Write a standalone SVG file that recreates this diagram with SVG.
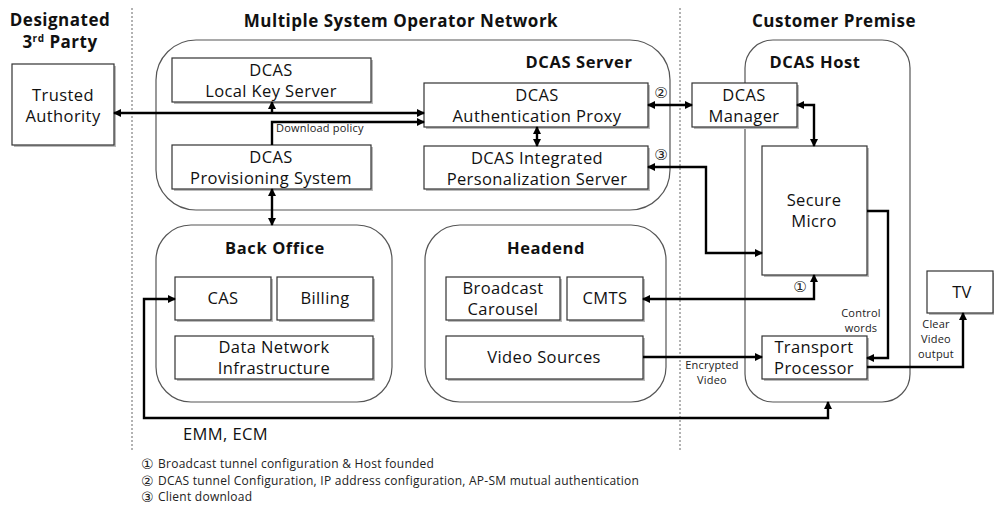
<svg xmlns="http://www.w3.org/2000/svg" width="994" height="505" viewBox="0 0 994 505">
  <style>
    .bg { fill: #ffffff; }
    .zone { stroke: #666; stroke-width: 1; stroke-dasharray: 2 2; fill: none; }
    .hdr { font-family: "Open Sans", "Liberation Sans", sans-serif; font-weight: bold; font-size: 17px; letter-spacing: 0.5px; fill: #111; text-anchor: middle; }
    .grp { fill: #fff; stroke: #555; stroke-width: 1.2; }
    .grptitle { font-family: "Open Sans", "Liberation Sans", sans-serif; font-weight: bold; font-size: 16.5px; letter-spacing: 0.6px; fill: #111; text-anchor: middle; }
    .box { fill: #fff; stroke: #333; stroke-width: 1.2; }
    .shadow { fill: #bbb; }
    .lbl { font-family: "Open Sans", "Liberation Sans", sans-serif; font-size: 16.5px; letter-spacing: 0.4px; fill: #111; text-anchor: middle; }
    .small { font-family: "Open Sans", "Liberation Sans", sans-serif; font-size: 11px; letter-spacing: 0.2px; fill: #222; text-anchor: middle; }
    .num { font-family: "DejaVu Sans", sans-serif; font-size: 15px; fill: #222; text-anchor: middle; }
    .legend { font-family: "Open Sans", "Liberation Sans", sans-serif; font-size: 12px; letter-spacing: 0.25px; fill: #222; }
    .legnum { font-family: "DejaVu Sans", sans-serif; font-size: 14px; fill: #222; }
    .wire { fill: none; stroke: #000; stroke-width: 2.4; }
  </style>
  <defs>
    <marker id="ah" viewBox="0 0 8 8" refX="7" refY="4" markerWidth="8" markerHeight="8" markerUnits="userSpaceOnUse" orient="auto-start-reverse">
      <path d="M0,0 L8,4 L0,8 z" fill="#000"/>
    </marker>
  </defs>

  <rect class="bg" x="0" y="0" width="994" height="505"/>

  <!-- zone separators -->
  <line class="zone" x1="132" y1="8" x2="132" y2="452"/>
  <line class="zone" x1="680" y1="8" x2="680" y2="452"/>

  <!-- zone headings -->
  <text class="hdr" x="60" y="26">Designated</text>
  <text class="hdr" x="60" y="48">3<tspan font-size="10" dy="-6">rd</tspan><tspan dy="6"> Party</tspan></text>
  <text class="hdr" x="401" y="27">Multiple System Operator Network</text>
  <text class="hdr" x="834" y="27">Customer Premise</text>

  <!-- containers -->
  <g id="dcas-server">
    <rect class="grp" x="156" y="40" width="514" height="170" rx="40" ry="40"/>
    <text class="grptitle" x="579" y="68">DCAS Server</text>
  </g>
  <g id="back-office">
    <rect class="grp" x="156" y="225" width="236" height="177" rx="35" ry="35"/>
    <text class="grptitle" x="275" y="254">Back Office</text>
  </g>
  <g id="headend">
    <rect class="grp" x="425" y="225" width="241" height="177" rx="35" ry="35"/>
    <text class="grptitle" x="546" y="254">Headend</text>
  </g>
  <g id="dcas-host">
    <rect class="grp" x="745" y="40" width="165" height="362" rx="28" ry="28"/>
    <text class="grptitle" x="815" y="68">DCAS Host</text>
  </g>

  <!-- nodes -->
  <g id="trusted-authority">
    <rect class="shadow" x="14" y="66" width="102" height="81"/>
    <rect class="box" x="12" y="64" width="102" height="81"/>
    <text class="lbl" x="63" y="101">Trusted</text>
    <text class="lbl" x="63" y="122">Authority</text>
  </g>
  <g id="local-key-server">
    <rect class="shadow" x="174" y="60" width="199" height="44"/>
    <rect class="box" x="172" y="58" width="199" height="44"/>
    <text class="lbl" x="271" y="76">DCAS</text>
    <text class="lbl" x="271" y="97">Local Key Server</text>
  </g>
  <g id="provisioning-system">
    <rect class="shadow" x="174" y="147" width="199" height="44"/>
    <rect class="box" x="172" y="145" width="199" height="44"/>
    <text class="lbl" x="271" y="163">DCAS</text>
    <text class="lbl" x="271" y="184">Provisioning System</text>
  </g>
  <g id="authentication-proxy">
    <rect class="shadow" x="426" y="85" width="224" height="44"/>
    <rect class="box" x="424" y="83" width="224" height="44"/>
    <text class="lbl" x="537" y="101">DCAS</text>
    <text class="lbl" x="537" y="122">Authentication Proxy</text>
  </g>
  <g id="personalization-server">
    <rect class="shadow" x="426" y="148" width="224" height="43"/>
    <rect class="box" x="424" y="146" width="224" height="43"/>
    <text class="lbl" x="537" y="164">DCAS Integrated</text>
    <text class="lbl" x="537" y="185">Personalization Server</text>
  </g>
  <g id="cas">
    <rect class="shadow" x="177" y="279" width="96" height="43"/>
    <rect class="box" x="175" y="277" width="96" height="43"/>
    <text class="lbl" x="223" y="304">CAS</text>
  </g>
  <g id="billing">
    <rect class="shadow" x="279" y="279" width="96" height="43"/>
    <rect class="box" x="277" y="277" width="96" height="43"/>
    <text class="lbl" x="325" y="304">Billing</text>
  </g>
  <g id="data-network">
    <rect class="shadow" x="177" y="338" width="198" height="43"/>
    <rect class="box" x="175" y="336" width="198" height="43"/>
    <text class="lbl" x="274" y="353">Data Network</text>
    <text class="lbl" x="274" y="374">Infrastructure</text>
  </g>
  <g id="broadcast-carousel">
    <rect class="shadow" x="448" y="279" width="114" height="43"/>
    <rect class="box" x="446" y="277" width="114" height="43"/>
    <text class="lbl" x="503" y="294">Broadcast</text>
    <text class="lbl" x="503" y="315">Carousel</text>
  </g>
  <g id="cmts">
    <rect class="shadow" x="569" y="279" width="76" height="43"/>
    <rect class="box" x="567" y="277" width="76" height="43"/>
    <text class="lbl" x="605" y="304">CMTS</text>
  </g>
  <g id="video-sources">
    <rect class="shadow" x="448" y="338" width="197" height="43"/>
    <rect class="box" x="446" y="336" width="197" height="43"/>
    <text class="lbl" x="544" y="363">Video Sources</text>
  </g>
  <g id="dcas-manager">
    <rect class="shadow" x="694" y="85" width="105" height="44"/>
    <rect class="box" x="692" y="83" width="105" height="44"/>
    <text class="lbl" x="744" y="101">DCAS</text>
    <text class="lbl" x="744" y="122">Manager</text>
  </g>
  <g id="secure-micro">
    <rect class="shadow" x="764" y="148" width="105" height="129"/>
    <rect class="box" x="762" y="146" width="105" height="129"/>
    <text class="lbl" x="814" y="206">Secure</text>
    <text class="lbl" x="814" y="227">Micro</text>
  </g>
  <g id="transport-processor">
    <rect class="shadow" x="764" y="338" width="105" height="43"/>
    <rect class="box" x="762" y="336" width="105" height="43"/>
    <text class="lbl" x="814" y="353">Transport</text>
    <text class="lbl" x="814" y="374">Processor</text>
  </g>
  <g id="tv">
    <rect class="shadow" x="929" y="273" width="66" height="42"/>
    <rect class="box" x="927" y="271" width="66" height="42"/>
    <text class="lbl" x="962" y="298">TV</text>
  </g>

  <!-- connectors -->
  <g id="connectors">
    <path class="wire" d="M114,113 H424" marker-start="url(#ah)" marker-end="url(#ah)"/>
    <path class="wire" d="M272,113 V102" marker-end="url(#ah)"/>
    <path class="wire" d="M272,145 V122 H424" marker-end="url(#ah)"/>
    <path class="wire" d="M272,189 V225" marker-start="url(#ah)" marker-end="url(#ah)"/>
    <path class="wire" d="M537,127 V146" marker-start="url(#ah)" marker-end="url(#ah)"/>
    <path class="wire" d="M648,105 H692" marker-start="url(#ah)" marker-end="url(#ah)"/>
    <path class="wire" d="M797,105 H814 V146" marker-start="url(#ah)" marker-end="url(#ah)"/>
    <path class="wire" d="M648,167 H706 V253 H762" marker-start="url(#ah)" marker-end="url(#ah)"/>
    <path class="wire" d="M643,299 H814 V275" marker-start="url(#ah)" marker-end="url(#ah)"/>
    <path class="wire" d="M867,211 H888 V358 H867" marker-end="url(#ah)"/>
    <path class="wire" d="M643,357 H762" marker-end="url(#ah)"/>
    <path class="wire" d="M867,367 H963 V313" marker-end="url(#ah)"/>
    <path class="wire" d="M175,299 H144 V418 H828 V402" marker-start="url(#ah)" marker-end="url(#ah)"/>

    <!-- connector labels -->
    <text class="small" x="276" y="132" style="text-anchor:start">Download policy</text>
    <text class="num" x="661" y="98">②</text>
    <text class="num" x="661" y="160">③</text>
    <text class="num" x="800" y="292">①</text>
    <text class="small" x="861" y="317">Control</text>
    <text class="small" x="861" y="332">words</text>
    <text class="small" x="936" y="328">Clear</text>
    <text class="small" x="936" y="343">Video</text>
    <text class="small" x="936" y="358">output</text>
    <text class="small" x="712" y="369">Encrypted</text>
    <text class="small" x="712" y="384">Video</text>
    <text class="lbl" x="183" y="440" style="text-anchor:start">EMM, ECM</text>
  </g>

  <!-- legend -->
  <g id="legend">
    <text class="legnum" x="141" y="469">①</text>
    <text class="legend" x="158" y="468">Broadcast tunnel configuration  &amp; Host founded</text>
    <text class="legnum" x="141" y="486">②</text>
    <text class="legend" x="158" y="485">DCAS tunnel Configuration, IP address configuration, AP-SM mutual authentication</text>
    <text class="legnum" x="141" y="502">③</text>
    <text class="legend" x="158" y="501">Client download</text>
  </g>
</svg>
